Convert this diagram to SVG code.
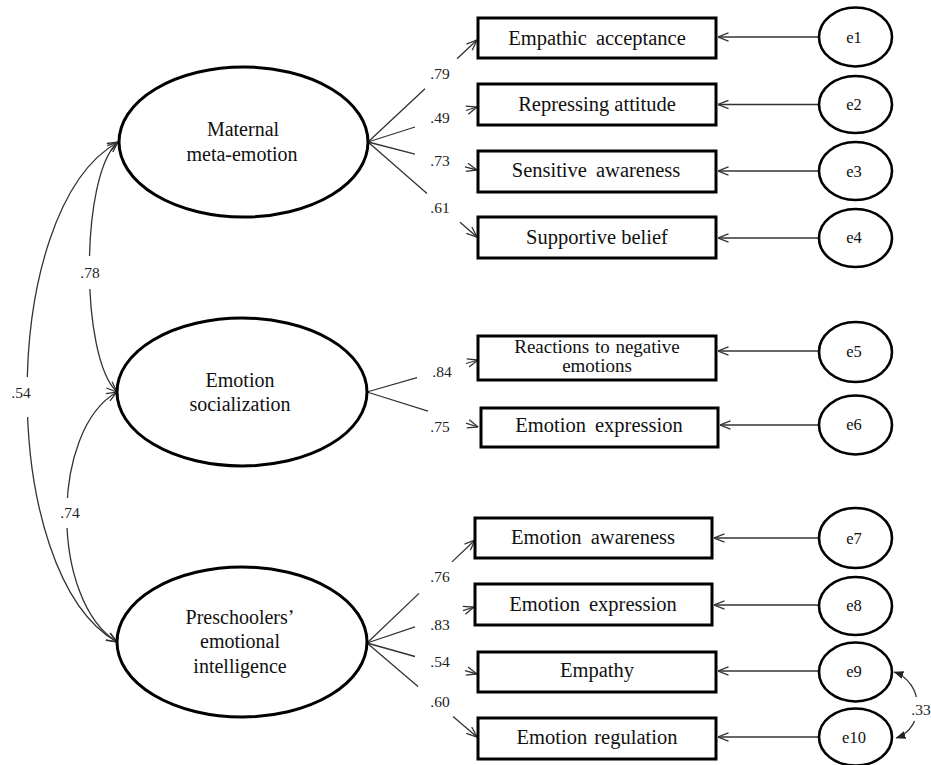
<svg xmlns="http://www.w3.org/2000/svg" width="931" height="765" viewBox="0 0 931 765">
<style>
.box{fill:#fff;stroke:#000;stroke-width:3}
.lat{fill:#fff;stroke:#000;stroke-width:3}
.err{fill:#fff;stroke:#000;stroke-width:2.6}
.t{font-family:"Liberation Serif","Times New Roman",serif;fill:#111;text-anchor:middle}
.bt{font-size:20.5px}
.bt2{font-size:19px}
.lt{font-size:20px}
.et{font-size:16.5px}
.nt{font-size:15.5px;fill:#222}
.ln{fill:none;stroke:#333;stroke-width:1.3}
</style>
<defs>
<marker id="open" viewBox="0 0 12 10" refX="11.5" refY="5" markerWidth="12" markerHeight="10" markerUnits="userSpaceOnUse" orient="auto-start-reverse">
<path d="M1,0.8 L11.5,5 L1,9.2" fill="none" stroke="#333" stroke-width="1.3"/>
</marker>
<marker id="solid" viewBox="0 0 10 8" refX="9.5" refY="4" markerWidth="10" markerHeight="8" markerUnits="userSpaceOnUse" orient="auto-start-reverse">
<path d="M0,0 L10,4 L0,8 Z" fill="#222"/>
</marker>
<mask id="gaps" maskUnits="userSpaceOnUse" x="-10" y="0" width="950" height="765">
<rect x="-10" y="0" width="950" height="765" fill="#fff"/>
<rect x="76" y="256" width="28" height="33" fill="#000"/>
<rect x="56" y="498" width="28" height="30" fill="#000"/>
<rect x="8" y="377" width="32" height="40" fill="#000"/>
<rect x="908" y="697" width="26" height="24" fill="#000"/>
</mask>
</defs>
<rect width="931" height="765" fill="#fff"/>

<g id="connectors">
<g id="covariances" class="ln" mask="url(#gaps)">
<path d="M118,142 C80,175 80,358 117,392" marker-start="url(#open)" marker-end="url(#open)"/>
<path d="M118,142 C-3,210 -3,574 117,642" marker-start="url(#open)" marker-end="url(#open)"/>
<path d="M117,392 C50,430 50,600 117,642" marker-start="url(#open)" marker-end="url(#open)"/>
<path d="M894,672 C924,682 926,728 896,738" marker-start="url(#solid)" marker-end="url(#solid)"/>
</g>
<g id="loadings" class="ln">
<path d="M368,142 L425,88.7 M457,58.7 L477,40" marker-end="url(#open)"/>
<path d="M368,142 L415,127 M466,110.5 L477,107" marker-end="url(#open)"/>
<path d="M368,142 L415,154.1 M465,166.9 L477,170" marker-end="url(#open)"/>
<path d="M368,142 L427,193.4 M460,222.2 L477,237" marker-end="url(#open)"/>
<path d="M367,392 L417,377.6 M466,363.5 L478,360" marker-end="url(#open)"/>
<path d="M367,392 L428,411.2 M466,423.2 L478,427" marker-end="url(#open)"/>
<path d="M367,643 L419,593.4 M452,561.9 L475,540" marker-end="url(#open)"/>
<path d="M367,643 L415,626.9 M463,610.7 L474,607" marker-end="url(#open)"/>
<path d="M367,643 L415,656.5 M465,670.6 L477,674" marker-end="url(#open)"/>
<path d="M367,643 L418,686.6 M453,716.5 L477,737" marker-end="url(#open)"/>
</g>
<g id="errors" class="ln">
<path d="M819,37 L718,37" marker-end="url(#open)"/>
<path d="M819,104.5 L718,104.5" marker-end="url(#open)"/>
<path d="M819,171 L718,171" marker-end="url(#open)"/>
<path d="M819,238 L718,238" marker-end="url(#open)"/>
<path d="M819,351 L718,351" marker-end="url(#open)"/>
<path d="M819,425 L720,425" marker-end="url(#open)"/>
<path d="M819,538 L714,538" marker-end="url(#open)"/>
<path d="M819,605 L714,605" marker-end="url(#open)"/>
<path d="M819,671 L718,671" marker-end="url(#open)"/>
<path d="M819,737 L718,737" marker-end="url(#open)"/>
</g>
<g id="coefficients" class="t nt">
<text x="90" y="278">.78</text>
<text x="70" y="518">.74</text>
<text x="21" y="398">.54</text>
<text x="440" y="79">.79</text>
<text x="440" y="123">.49</text>
<text x="440" y="166">.73</text>
<text x="440" y="213">.61</text>
<text x="442" y="377">.84</text>
<text x="440" y="432">.75</text>
<text x="440" y="582">.76</text>
<text x="440" y="630">.83</text>
<text x="440" y="667">.54</text>
<text x="440" y="707">.60</text>
<text x="921" y="715">.33</text>
</g>
</g>

<g id="maternal">
<ellipse class="lat" cx="243.5" cy="142" rx="124.5" ry="75"/>
<text class="t lt" x="243" y="136">Maternal</text>
<text class="t lt" x="242" y="161">meta-emotion</text>
</g>
<g id="socialization">
<ellipse class="lat" cx="242" cy="392" rx="125" ry="74"/>
<text class="t lt" x="240" y="387">Emotion</text>
<text class="t lt" x="240" y="411">socialization</text>
</g>
<g id="preschoolers">
<ellipse class="lat" cx="242" cy="642" rx="125" ry="75"/>
<text class="t lt" x="240" y="624">Preschoolers’</text>
<text class="t lt" x="240" y="648">emotional</text>
<text class="t lt" x="240" y="673">intelligence</text>
</g>

<g id="empathic"><rect class="box" x="478" y="18" width="238" height="40"/><text class="t bt" x="597" y="45" word-spacing="4">Empathic acceptance</text></g>
<g id="repressing"><rect class="box" x="478" y="84" width="238" height="41"/><text class="t bt" x="597" y="111">Repressing attitude</text></g>
<g id="sensitive"><rect class="box" x="478" y="151" width="238" height="41"/><text class="t bt" x="596" y="177" word-spacing="4">Sensitive awareness</text></g>
<g id="supportive"><rect class="box" x="478" y="217" width="238" height="41"/><text class="t bt" x="597" y="244">Supportive belief</text></g>
<g id="reactions"><rect class="box" x="478" y="336" width="238" height="44"/><text class="t bt2" x="597" y="353" word-spacing="1">Reactions to negative</text><text class="t bt2" x="597" y="372">emotions</text></g>
<g id="expression1"><rect class="box" x="481" y="408" width="237" height="39"/><text class="t bt" x="599" y="432" word-spacing="4">Emotion expression</text></g>
<g id="awareness"><rect class="box" x="475" y="518" width="237" height="40"/><text class="t bt" x="593" y="544" word-spacing="4">Emotion awareness</text></g>
<g id="expression2"><rect class="box" x="475" y="584" width="237" height="41"/><text class="t bt" x="593" y="611" word-spacing="4">Emotion expression</text></g>
<g id="empathy"><rect class="box" x="478" y="652" width="238" height="40"/><text class="t bt" x="597" y="677">Empathy</text></g>
<g id="regulation"><rect class="box" x="478" y="718" width="238" height="41"/><text class="t bt" x="597" y="744" word-spacing="2">Emotion regulation</text></g>

<g id="e1"><ellipse class="err" cx="855.5" cy="37" rx="36.5" ry="29.5"/><text class="t et" x="854" y="43">e1</text></g>
<g id="e2"><ellipse class="err" cx="855.5" cy="104.5" rx="36.5" ry="28.5"/><text class="t et" x="854" y="110">e2</text></g>
<g id="e3"><ellipse class="err" cx="855.5" cy="171" rx="36.5" ry="29"/><text class="t et" x="854" y="177">e3</text></g>
<g id="e4"><ellipse class="err" cx="855.5" cy="238" rx="36.5" ry="29"/><text class="t et" x="854" y="243">e4</text></g>
<g id="e5"><ellipse class="err" cx="855.5" cy="352" rx="36.5" ry="30"/><text class="t et" x="854" y="357">e5</text></g>
<g id="e6"><ellipse class="err" cx="855.5" cy="425" rx="36.5" ry="29.5"/><text class="t et" x="854" y="430">e6</text></g>
<g id="e7"><ellipse class="err" cx="855.5" cy="538" rx="36.5" ry="30"/><text class="t et" x="854" y="544">e7</text></g>
<g id="e8"><ellipse class="err" cx="855.5" cy="606" rx="36.5" ry="29"/><text class="t et" x="854" y="611">e8</text></g>
<g id="e9"><ellipse class="err" cx="855.5" cy="672" rx="36.5" ry="29.5"/><text class="t et" x="854" y="677">e9</text></g>
<g id="e10"><ellipse class="err" cx="855.5" cy="737" rx="36.5" ry="28.5"/><text class="t et" x="854" y="743">e10</text></g>
</svg>
